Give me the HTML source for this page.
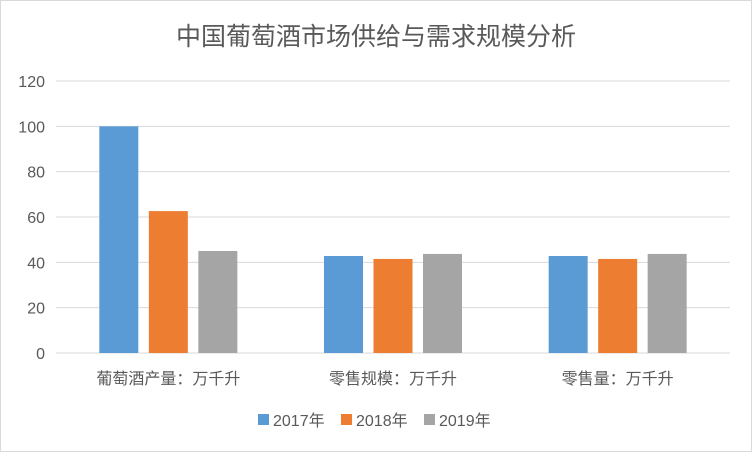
<!DOCTYPE html>
<html><head><meta charset="utf-8"><style>
body{margin:0;background:#fff;}
svg text{font-family:"Liberation Sans","Noto Sans CJK SC",sans-serif;fill:#595959;}
</style></head><body>
<svg width="752" height="452">
<rect x="0.5" y="0.5" width="751" height="451" fill="#fff" stroke="#d9d9d9"/>
<text x="376" y="45" font-size="25" text-anchor="middle">中国葡萄酒市场供给与需求规模分析</text>
<g id="grid"></g><g id="bars"></g><g id="labels"></g>
<g id="legend"></g>
</svg>
<script>
const categories=["葡萄酒产量：万千升","零售规模：万千升","零售量：万千升"];
const seriesNames=["2017年","2018年","2019年"];
const s2017=[100,42.8,42.8];
const s2018=[62.6,41.5,41.5];
const s2019=[45,43.7,43.7];
const ticks=[0,20,40,60,80,100,120];
const colors=["#5b9bd5","#ed7d31","#a5a5a5"];
const ns="http://www.w3.org/2000/svg";
const L=56,R=730,Y0=353,Y1=81,ymax=120;
const y=v=>Y0-(v/ymax)*(Y0-Y1);
const cw=(R-L)/categories.length;
const grid=document.getElementById('grid'),bars=document.getElementById('bars'),labels=document.getElementById('labels'),legend=document.getElementById('legend');
function mk(t,a){const e=document.createElementNS(ns,t);for(const k in a)e.setAttribute(k,a[k]);return e;}
ticks.forEach(t=>{
 const l=mk('line',{x1:L,x2:R,y1:y(t),y2:y(t),stroke:'#d9d9d9','stroke-width':1});
 
 
 grid.appendChild(l);
 const tx=mk('text',{x:45,y:y(t)+6,'font-size':16,'text-anchor':'end'});
 
 
 tx.textContent=t;grid.appendChild(tx);
});
const series=[s2017,s2018,s2019];
categories.forEach((c,i)=>{
 const cx=L+cw*(i+0.5);
 series.forEach((s,j)=>{
  const bx=cx+(j-1)*49.5-19.5;
  const r=mk('rect',{x:bx,y:y(s[i]),width:39,height:Y0-y(s[i]),fill:colors[j]});
  
  
  bars.appendChild(r);
 });
 const tx=mk('text',{x:cx,y:384,'font-size':16,'text-anchor':'middle'});
 
 
 tx.textContent=c;labels.appendChild(tx);
});
seriesNames.forEach((n,j)=>{
 const lx=258+j*83;
 const r=mk('rect',{x:lx,y:414,width:11,height:11,fill:colors[j]});
 
 
 legend.appendChild(r);
 const tx=mk('text',{x:lx+15,y:426,'font-size':16});
 
 
 tx.textContent=n;legend.appendChild(tx);
});
</script>
</body></html>
